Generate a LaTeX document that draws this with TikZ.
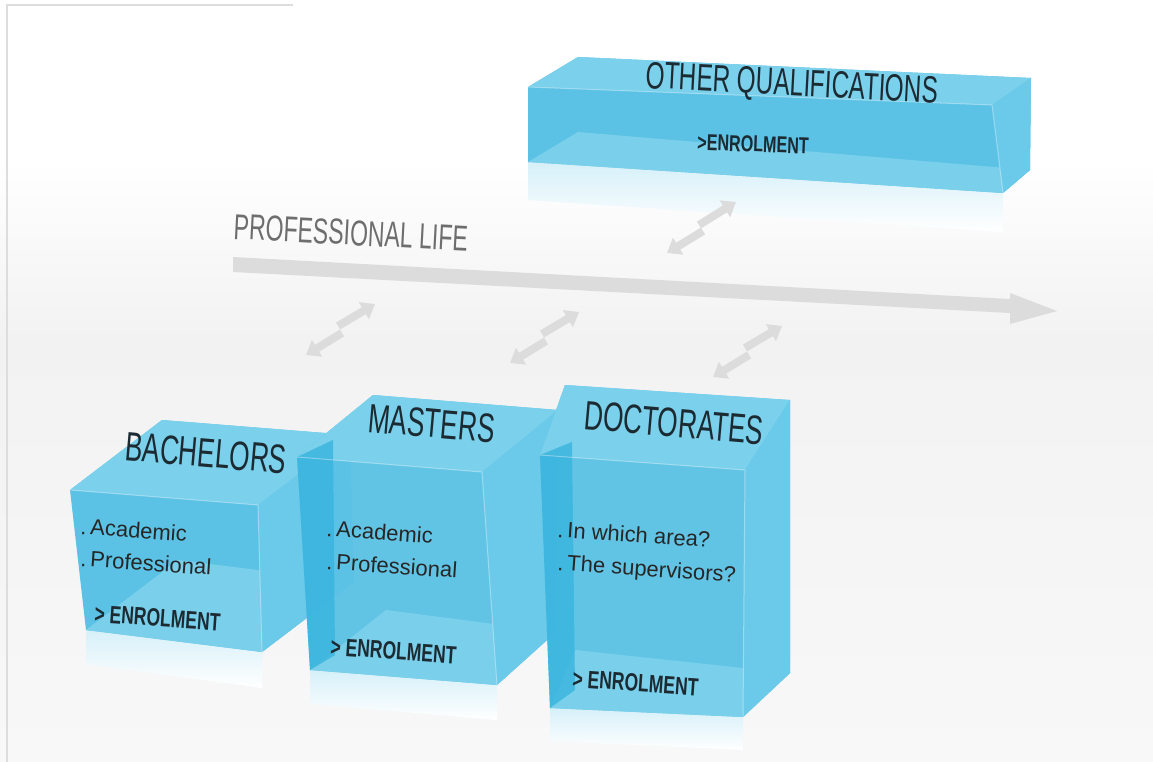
\documentclass[tikz,border=0pt]{standalone}
\usepackage{fontspec}
\setmainfont{Liberation Sans}
\newfontfamily\condf[FakeStretch=0.64]{Liberation Sans}
\newfontfamily\condg[FakeStretch=0.7]{Liberation Sans}
\usetikzlibrary{arrows.meta,calc}
\definecolor{cbase}{HTML}{5BC2E5}
\definecolor{ctop}{HTML}{7BD0EC}
\definecolor{cbot}{HTML}{7ACFEB}
\definecolor{cright}{HTML}{6BCAEA}
\definecolor{cdark}{HTML}{38B4DE}
\definecolor{reflc}{HTML}{D6F0F9}
\definecolor{arrowgray}{HTML}{DCDCDC}
\definecolor{bordercol}{HTML}{DDDDDD}
\definecolor{bgmid}{HTML}{F2F2F2}
\definecolor{bglow}{HTML}{F8F8F8}
\definecolor{ttlcol}{HTML}{1C2A32}
\definecolor{lifecol}{HTML}{6E6E6E}
\tikzset{
  ttl/.style={font=\condf\fontsize{41}{41}\selectfont, text=ttlcol, inner sep=0pt, anchor=base west, rotate=-5},
  bodytxt/.style={font=\fontsize{22}{22}\selectfont, text=black!85, inner sep=0pt, anchor=base west, rotate=-4},
  enrol/.style={font=\condg\bfseries\fontsize{25}{25}\selectfont, text=ttlcol, inner sep=0pt, anchor=base west, rotate=-4},
  sarrow/.style={line width=8pt, draw=arrowgray, -{Triangle[width=19pt,length=13pt]}},
  edge/.style={draw=white, draw opacity=0.35, line width=1pt}
}
\begin{document}
\begin{tikzpicture}[x=1pt,y=-1pt]
\useasboundingbox (0,0) rectangle (1153,762);
% background
\fill[white] (0,0) rectangle (1153,762);
\shade[top color=white, bottom color=bgmid] (0,160) rectangle (1153,340);
\shade[top color=bgmid, bottom color=bglow] (0,340) rectangle (1153,762);
\draw[bordercol, line width=2pt] (7,5) -- (7,762);
\draw[bordercol, line width=1.5pt] (6,5) -- (293,5);

% professional life arrow
\fill[arrowgray] (233,257) -- (1010,299) -- (1010,293) -- (1057,311) -- (1010,324) -- (1010,313) -- (233,272) -- cycle;

% ---------- Other qualifications slab ----------
\coordinate (oF1) at (528,87);  \coordinate (oF2) at (992,105);
\coordinate (oF3) at (1003,193);\coordinate (oF4) at (528,162);
\coordinate (oB1) at (578,57);  \coordinate (oB2) at (1031,78);
\coordinate (oB3) at (1030,170);\coordinate (oB4) at (578,132);
\shade[top color=reflc, bottom color=white] (528,162) -- (1003,193) -- (1003,232) -- (528,200) -- cycle;
\fill[cbase] (oF1) -- (oB1) -- (oB2) -- (oB3) -- (oF3) -- (oF4) -- cycle;
\fill[ctop] (oF1) -- (oB1) -- (oB2) -- (oF2) -- cycle;
\fill[cbot] (oF4) -- (oF3) -- (oB3) -- (oB4) -- cycle;
\fill[cright] (oF2) -- (oB2) -- (oB3) -- (oF3) -- cycle;
\draw[edge] (oF1) -- (oF2) -- (oF3);

% ---------- small double arrows ----------
\coordinate (qa1) at (699,225); \coordinate (qa2) at (736,202);
\coordinate (qb1) at (703,231); \coordinate (qb2) at (667,253);
\draw[sarrow] (qa1) -- (qa2);
\draw[sarrow] (qb1) -- (qb2);
\coordinate (ba1) at (338,326); \coordinate (ba2) at (375,304);
\coordinate (bb1) at (342,333); \coordinate (bb2) at (306,355);
\draw[sarrow] (ba1) -- (ba2);
\draw[sarrow] (bb1) -- (bb2);
\coordinate (ma1) at (542,334); \coordinate (ma2) at (579,312);
\coordinate (mb1) at (546,341); \coordinate (mb2) at (510,363);
\draw[sarrow] (ma1) -- (ma2);
\draw[sarrow] (mb1) -- (mb2);
\coordinate (da1) at (745,348); \coordinate (da2) at (782,326);
\coordinate (db1) at (749,355); \coordinate (db2) at (713,377);
\draw[sarrow] (da1) -- (da2);
\draw[sarrow] (db1) -- (db2);

% ---------- Bachelors ----------
\coordinate (bF1) at (70,490);  \coordinate (bF2) at (258,505);
\coordinate (bF3) at (262,652); \coordinate (bF4) at (86,630);
\coordinate (bB1) at (162,420); \coordinate (bB2) at (350,435);
\coordinate (bB3) at (354,582); \coordinate (bB4) at (178,560);
\shade[top color=reflc, bottom color=white] (86,630) -- (262,652) -- (262,688) -- (86,664) -- cycle;
\fill[cbase] (bF1) -- (bB1) -- (bB2) -- (bB3) -- (bF3) -- (bF4) -- cycle;
\fill[ctop] (bF1) -- (bB1) -- (bB2) -- (bF2) -- cycle;
\fill[cbot] (bF4) -- (bF3) -- (bB3) -- (bB4) -- cycle;
\fill[cright] (bF2) -- (bB2) -- (bB3) -- (bF3) -- cycle;
\draw[edge] (bF1) -- (bF2) -- (bF3);

% ---------- Masters ----------
\coordinate (mF1) at (297,457); \coordinate (mF2) at (482,472);
\coordinate (mF3) at (497,685); \coordinate (mF4) at (310,670);
\coordinate (mB1) at (373,395); \coordinate (mB2) at (558,410);
\coordinate (mB3) at (556,632); \coordinate (mB4) at (386,610);
\shade[top color=reflc, bottom color=white] (310,670) -- (497,685) -- (497,720) -- (310,704) -- cycle;
\fill[cbase, fill opacity=0.95] (mF1) -- (mB1) -- (mB2) -- (mB3) -- (mF3) -- (mF4) -- cycle;
\fill[ctop] (mF1) -- (mB1) -- (mB2) -- (mF2) -- cycle;
\fill[cbot] (mF4) -- (mF3) -- (mB3) -- (mB4) -- cycle;
\fill[cright] (mF2) -- (mB2) -- (mB3) -- (mF3) -- cycle;
\fill[cdark, fill opacity=0.8] (297,457) -- (333,440) -- (335,655) -- (310,670) -- cycle;
\draw[edge] (mF1) -- (mF2) -- (mF3);

% ---------- Doctorates ----------
\coordinate (dF1) at (540,455); \coordinate (dF2) at (745,470);
\coordinate (dF3) at (743,717); \coordinate (dF4) at (550,708);
\coordinate (dB1) at (565,385); \coordinate (dB2) at (790,400);
\coordinate (dB3) at (790,673); \coordinate (dB4) at (575,650);
\shade[top color=reflc, bottom color=white] (550,708) -- (743,717) -- (743,750) -- (550,741) -- cycle;
\fill[cbase, fill opacity=0.95] (dF1) -- (dB1) -- (dB2) -- (dB3) -- (dF3) -- (dF4) -- cycle;
\fill[ctop] (dF1) -- (dB1) -- (dB2) -- (dF2) -- cycle;
\fill[cbot] (dF4) -- (dF3) -- (dB3) -- (dB4) -- cycle;
\fill[cright] (dF2) -- (dB2) -- (dB3) -- (dF3) -- cycle;
\fill[cdark, fill opacity=0.8] (540,455) -- (572,442) -- (575,690) -- (550,708) -- cycle;
\draw[edge] (dF1) -- (dF2) -- (dF3);

% ---------- texts ----------
\node[ttl, rotate=2, text=lifecol, font=\condf\fontsize{36}{36}\selectfont] (life) at (233,239) {PROFESSIONAL LIFE};
\node[ttl, rotate=2, font=\condf\fontsize{38}{38}\selectfont] (oqt) at (645,88) {OTHER QUALIFICATIONS};
\node[enrol, rotate=2, font=\condg\bfseries\fontsize{23}{23}\selectfont] (oqe) at (697,150) {>ENROLMENT};

\node[ttl] (bt) at (124,460) {BACHELORS};
\node[bodytxt] (b1) at (80,534) {.\,Academic};
\node[bodytxt] (b2) at (80,566) {.\,Professional};
\node[enrol] (be) at (94,622) {> ENROLMENT};

\node[ttl] (mt) at (367,432) {MASTERS};
\node[bodytxt] (m1) at (326,536) {.\,Academic};
\node[bodytxt] (m2) at (326,569) {.\,Professional};
\node[enrol] (me) at (330,655) {> ENROLMENT};

\node[ttl] (dt) at (583,429) {DOCTORATES};
\node[bodytxt] (d1) at (557,537) {.\,In which area?};
\node[bodytxt] (d2) at (557,570) {.\,The supervisors?};
\node[enrol] (de) at (572,687) {> ENROLMENT};
\end{tikzpicture}
\end{document}
